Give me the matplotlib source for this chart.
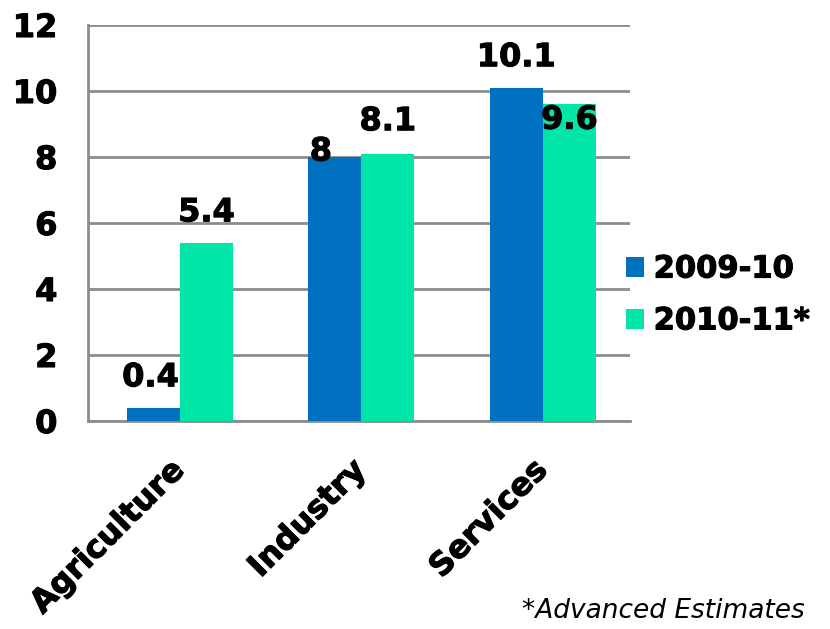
import matplotlib
matplotlib.use("Agg")
import matplotlib.pyplot as plt
import matplotlib.patheffects as pe
import numpy as np

categories = ["Agriculture", "Industry", "Services"]
series_names = ["2009-10", "2010-11*"]
values_2009 = [0.4, 8, 10.1]
values_2010 = [5.4, 8.1, 9.6]
value_labels_2009 = ["0.4", "8", "10.1"]
value_labels_2010 = ["5.4", "8.1", "9.6"]
yticks = [0, 2, 4, 6, 8, 10, 12]
footnote = "*Advanced Estimates"

blue = "#0070C0"
green = "#00E6A8"
grid_c = "#8C8C8C"

plt.rcParams['font.family'] = ['DejaVu Sans']
fig = plt.figure(figsize=(8.3, 6.29), dpi=100)
ax = fig.add_axes([88/830, 1-421/629, (630-88)/830, (421-25)/629])

heavy = [pe.withStroke(linewidth=0.8, foreground='black')]

x = np.arange(len(categories))
w = 0.292
ax.bar(x - w/2, values_2009, w, color=blue, label=series_names[0], zorder=3)
ax.bar(x + w/2, values_2010, w, color=green, label=series_names[1], zorder=3)

ax.set_ylim(0, 12)
ax.set_xlim(-0.507, 2.48)
ax.set_yticks(yticks)
ax.set_yticklabels([str(t) for t in yticks], fontsize=23, fontweight='bold')
ax.tick_params(axis='y', length=0, pad=22)
ax.tick_params(axis='x', length=0)
ax.set_xticks(x)
ax.set_xticklabels(categories, fontsize=23, fontweight='bold', rotation=45,
                   ha='right', va='center', rotation_mode='anchor')
for lbl in ax.get_xticklabels():
    lbl.set_y(-0.10)
for lbl in ax.get_xticklabels() + ax.get_yticklabels():
    lbl.set_path_effects(heavy)
for sp in ['top', 'right']:
    ax.spines[sp].set_visible(False)
for sp in ['left', 'bottom']:
    ax.spines[sp].set_color(grid_c)
    ax.spines[sp].set_linewidth(2)
ax.yaxis.grid(True, color=grid_c, linewidth=2, zorder=0)
ax.set_axisbelow(True)

# data labels (offsets in pixels)
off1 = [(-3, 30), (-14, 5), (0, 30)]
off2 = [(0, 30), (0, 32), (0, -16)]
for xi, v, t, o in zip(x - w/2, values_2009, value_labels_2009, off1):
    ax.annotate(t, xy=(xi, v), xytext=o, textcoords='offset pixels',
                ha='center', va='center', fontsize=23, fontweight='bold',
                zorder=5, path_effects=heavy)
for xi, v, t, o in zip(x + w/2, values_2010, value_labels_2010, off2):
    ax.annotate(t, xy=(xi, v), xytext=o, textcoords='offset pixels',
                ha='center', va='center', fontsize=23, fontweight='bold',
                zorder=5, path_effects=heavy)

leg = ax.legend(loc='center left', bbox_to_anchor=(598/830, 1-295/629),
                bbox_transform=fig.transFigure, frameon=False,
                prop={'size': 22, 'weight': 'bold'}, handlelength=0.62,
                handleheight=0.62, handletextpad=0.3, labelspacing=0.75)
for t in leg.get_texts():
    t.set_path_effects(heavy)

fig.text(805/830, 1-611/629, footnote, ha='right', va='center',
         fontsize=19, fontstyle='italic')

fig.savefig("out.png", dpi=100)
